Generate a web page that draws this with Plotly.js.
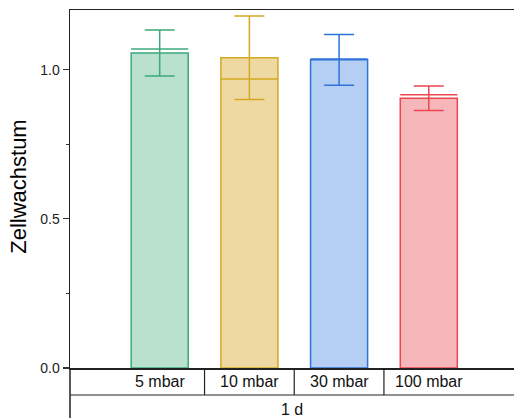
<!DOCTYPE html>
<html>
<head>
<meta charset="utf-8">
<script src="https://cdn.plot.ly/plotly-3.0.1.min.js"></script>
<style>html,body{margin:0;padding:0;background:#fff;}#chart{width:514px;height:418px;}</style>
</head>
<body>
<div id="chart"></div>
<script>
var categories = ["5 mbar", "10 mbar", "30 mbar", "100 mbar"];
var groupLabel = "1 d";
var values = [1.056, 1.040, 1.033, 0.904];
var errors = [0.077, 0.140, 0.085, 0.041];
var medians = [1.069, 0.969, 1.036, 0.916];
var edgeColors = ["#3ca97b", "#d3a922", "#2e73d8", "#ec4651"];
var fillColors = ["#b9e1cd", "#efd9a3", "#b4cff3", "#f7b7ba"];
var yTickVals = [0, 0.5, 1.0];
var yTickText = ["0.0", "0.5", "1.0"];
var yTitle = "Zellwachstum";

var xMin = -1, xMax = 3.95;
var barW = 0.636;
var font = "Liberation Sans, Arial, sans-serif";
var rowH = -0.0754;   // paper units: first table row bottom
var px = function(x){ return (x - xMin) / (xMax - xMin); };

var traces = categories.map(function(c, i){
  return {
    type: "bar", x: [i], y: [values[i]], width: barW,
    marker: {color: fillColors[i], line: {color: edgeColors[i], width: 1.5}},
    error_y: {type: "data", array: [errors[i]], visible: true, color: edgeColors[i], thickness: 1.5, width: 15},
    showlegend: false, hoverinfo: "skip"
  };
});

var shapes = [];
medians.forEach(function(m, i){
  shapes.push({type: "line", xref: "x", yref: "y", x0: i - barW/2, x1: i + barW/2, y0: m, y1: m,
               line: {color: edgeColors[i], width: 1.5}});
});
// table lines
shapes.push({type: "line", xref: "paper", yref: "paper", x0: 0, x1: 1, y0: rowH, y1: rowH, line: {color: "#222", width: 1.2}});
for (var i = 0; i < categories.length - 1; i++) {
  shapes.push({type: "line", xref: "paper", yref: "paper", x0: px(i + 0.5), x1: px(i + 0.5), y0: 0, y1: rowH, line: {color: "#222", width: 1.2}});
}
shapes.push({type: "line", xref: "paper", yref: "paper", x0: 0, x1: 0, y0: 0, y1: -0.2, line: {color: "#222", width: 1.5}});

var annotations = categories.map(function(c, i){
  return {xref: "x", yref: "paper", x: i, y: rowH/2, text: c, showarrow: false,
          xanchor: "center", yanchor: "middle", font: {family: font, size: 16, color: "#111"}};
});
annotations.push({xref: "paper", yref: "paper", x: 0.5, y: -0.117, text: groupLabel, showarrow: false,
                  xanchor: "center", yanchor: "middle", font: {family: font, size: 16, color: "#111"}});
annotations.push({xref: "paper", yref: "paper", x: -0.115, y: 0.506, text: yTitle, showarrow: false, textangle: -90,
                  xanchor: "center", yanchor: "middle", font: {family: font, size: 22, color: "#000"}});

var layout = {
  width: 514, height: 418,
  margin: {l: 70, r: 0, t: 10, b: 50, pad: 0},
  paper_bgcolor: "#fff", plot_bgcolor: "#fff",
  barmode: "overlay",
  xaxis: {range: [xMin, xMax], showticklabels: false, ticks: "", showgrid: false, zeroline: false,
          showline: true, mirror: true, linecolor: "#222", linewidth: 1.5, fixedrange: true},
  yaxis: {range: [0, 1.2], tickvals: yTickVals, ticktext: yTickText, ticks: "outside", ticklen: 6, tickwidth: 1.2,
          tickcolor: "#333", showgrid: false, zeroline: false, showline: true, linecolor: "#222", linewidth: 1.5,
          tickfont: {family: font, size: 14, color: "#222"},
          minor: {dtick: 0.25, tick0: 0, ticks: "outside", ticklen: 3, tickcolor: "#333", showgrid: false},
          fixedrange: true},
  shapes: shapes,
  annotations: annotations
};

Plotly.newPlot("chart", traces, layout, {displayModeBar: false, staticPlot: true});
</script>
</body>
</html>
